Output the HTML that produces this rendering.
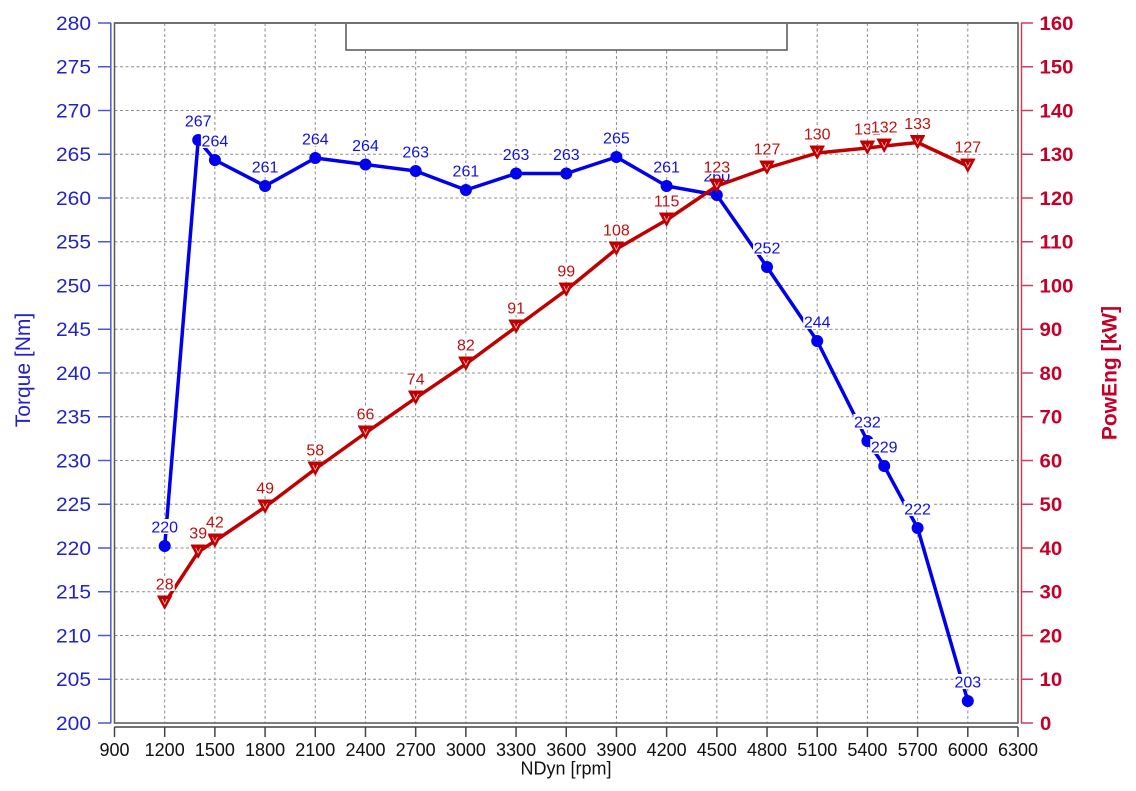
<!DOCTYPE html>
<html><head><meta charset="utf-8"><style>
html,body{margin:0;padding:0;background:#fff;}
svg{display:block;}
text{font-family:"Liberation Sans",Arial,sans-serif;}
</style></head><body>
<svg width="1136" height="791" viewBox="0 0 1136 791" xmlns="http://www.w3.org/2000/svg">
<rect x="0" y="0" width="1136" height="791" fill="#fff"/>
<!-- grid -->
<g stroke="#8c8c8c" stroke-width="1" stroke-dasharray="3,2.5" fill="none">
<line x1="114.5" y1="66.75" x2="1018" y2="66.75"/>
<line x1="114.5" y1="110.5" x2="1018" y2="110.5"/>
<line x1="114.5" y1="154.25" x2="1018" y2="154.25"/>
<line x1="114.5" y1="198" x2="1018" y2="198"/>
<line x1="114.5" y1="241.75" x2="1018" y2="241.75"/>
<line x1="114.5" y1="285.5" x2="1018" y2="285.5"/>
<line x1="114.5" y1="329.25" x2="1018" y2="329.25"/>
<line x1="114.5" y1="373" x2="1018" y2="373"/>
<line x1="114.5" y1="416.75" x2="1018" y2="416.75"/>
<line x1="114.5" y1="460.5" x2="1018" y2="460.5"/>
<line x1="114.5" y1="504.25" x2="1018" y2="504.25"/>
<line x1="114.5" y1="548" x2="1018" y2="548"/>
<line x1="114.5" y1="591.75" x2="1018" y2="591.75"/>
<line x1="114.5" y1="635.5" x2="1018" y2="635.5"/>
<line x1="114.5" y1="679.25" x2="1018" y2="679.25"/>
<line x1="164.69" y1="23" x2="164.69" y2="723"/>
<line x1="214.89" y1="23" x2="214.89" y2="723"/>
<line x1="265.08" y1="23" x2="265.08" y2="723"/>
<line x1="315.28" y1="23" x2="315.28" y2="723"/>
<line x1="365.47" y1="23" x2="365.47" y2="723"/>
<line x1="415.67" y1="23" x2="415.67" y2="723"/>
<line x1="465.86" y1="23" x2="465.86" y2="723"/>
<line x1="516.06" y1="23" x2="516.06" y2="723"/>
<line x1="566.25" y1="23" x2="566.25" y2="723"/>
<line x1="616.44" y1="23" x2="616.44" y2="723"/>
<line x1="666.64" y1="23" x2="666.64" y2="723"/>
<line x1="716.83" y1="23" x2="716.83" y2="723"/>
<line x1="767.03" y1="23" x2="767.03" y2="723"/>
<line x1="817.22" y1="23" x2="817.22" y2="723"/>
<line x1="867.42" y1="23" x2="867.42" y2="723"/>
<line x1="917.61" y1="23" x2="917.61" y2="723"/>
<line x1="967.81" y1="23" x2="967.81" y2="723"/>
</g>
<!-- top box -->
<rect x="346" y="23" width="441" height="27" fill="#fff" stroke="#555" stroke-width="1.5"/>
<!-- frame -->
<rect x="114.5" y="23" width="903.5" height="700" fill="none" stroke="#555" stroke-width="1.5"/>
<line x1="114.5" y1="23" x2="1018" y2="23" stroke="#707070" stroke-width="2"/>

<!-- left axis -->
<g stroke="#4a58d0" stroke-width="1.5">
<line x1="110.8" y1="23" x2="110.8" y2="723"/>
<line x1="98" y1="23" x2="111" y2="23"/>
<line x1="98" y1="66.75" x2="111" y2="66.75"/>
<line x1="98" y1="110.5" x2="111" y2="110.5"/>
<line x1="98" y1="154.25" x2="111" y2="154.25"/>
<line x1="98" y1="198" x2="111" y2="198"/>
<line x1="98" y1="241.75" x2="111" y2="241.75"/>
<line x1="98" y1="285.5" x2="111" y2="285.5"/>
<line x1="98" y1="329.25" x2="111" y2="329.25"/>
<line x1="98" y1="373" x2="111" y2="373"/>
<line x1="98" y1="416.75" x2="111" y2="416.75"/>
<line x1="98" y1="460.5" x2="111" y2="460.5"/>
<line x1="98" y1="504.25" x2="111" y2="504.25"/>
<line x1="98" y1="548" x2="111" y2="548"/>
<line x1="98" y1="591.75" x2="111" y2="591.75"/>
<line x1="98" y1="635.5" x2="111" y2="635.5"/>
<line x1="98" y1="679.25" x2="111" y2="679.25"/>
<line x1="98" y1="723" x2="111" y2="723"/>
</g>
<g fill="#2222c8" font-size="19" text-anchor="end">
<text x="91" y="29.8" textLength="35" lengthAdjust="spacingAndGlyphs">280</text>
<text x="91" y="73.55" textLength="35" lengthAdjust="spacingAndGlyphs">275</text>
<text x="91" y="117.3" textLength="35" lengthAdjust="spacingAndGlyphs">270</text>
<text x="91" y="161.05" textLength="35" lengthAdjust="spacingAndGlyphs">265</text>
<text x="91" y="204.8" textLength="35" lengthAdjust="spacingAndGlyphs">260</text>
<text x="91" y="248.55" textLength="35" lengthAdjust="spacingAndGlyphs">255</text>
<text x="91" y="292.3" textLength="35" lengthAdjust="spacingAndGlyphs">250</text>
<text x="91" y="336.05" textLength="35" lengthAdjust="spacingAndGlyphs">245</text>
<text x="91" y="379.8" textLength="35" lengthAdjust="spacingAndGlyphs">240</text>
<text x="91" y="423.55" textLength="35" lengthAdjust="spacingAndGlyphs">235</text>
<text x="91" y="467.3" textLength="35" lengthAdjust="spacingAndGlyphs">230</text>
<text x="91" y="511.05" textLength="35" lengthAdjust="spacingAndGlyphs">225</text>
<text x="91" y="554.8" textLength="35" lengthAdjust="spacingAndGlyphs">220</text>
<text x="91" y="598.55" textLength="35" lengthAdjust="spacingAndGlyphs">215</text>
<text x="91" y="642.3" textLength="35" lengthAdjust="spacingAndGlyphs">210</text>
<text x="91" y="686.05" textLength="35" lengthAdjust="spacingAndGlyphs">205</text>
<text x="91" y="729.8" textLength="35" lengthAdjust="spacingAndGlyphs">200</text>
</g>
<text transform="translate(30,370) rotate(-90)" text-anchor="middle" font-size="21" fill="#2222c8">Torque [Nm]</text>

<!-- right axis -->
<g stroke="#c8405e" stroke-width="1.5">
<line x1="1021.5" y1="23" x2="1021.5" y2="723"/>
<line x1="1021" y1="23" x2="1033" y2="23"/>
<line x1="1021" y1="66.75" x2="1033" y2="66.75"/>
<line x1="1021" y1="110.5" x2="1033" y2="110.5"/>
<line x1="1021" y1="154.25" x2="1033" y2="154.25"/>
<line x1="1021" y1="198" x2="1033" y2="198"/>
<line x1="1021" y1="241.75" x2="1033" y2="241.75"/>
<line x1="1021" y1="285.5" x2="1033" y2="285.5"/>
<line x1="1021" y1="329.25" x2="1033" y2="329.25"/>
<line x1="1021" y1="373" x2="1033" y2="373"/>
<line x1="1021" y1="416.75" x2="1033" y2="416.75"/>
<line x1="1021" y1="460.5" x2="1033" y2="460.5"/>
<line x1="1021" y1="504.25" x2="1033" y2="504.25"/>
<line x1="1021" y1="548" x2="1033" y2="548"/>
<line x1="1021" y1="591.75" x2="1033" y2="591.75"/>
<line x1="1021" y1="635.5" x2="1033" y2="635.5"/>
<line x1="1021" y1="679.25" x2="1033" y2="679.25"/>
<line x1="1021" y1="723" x2="1033" y2="723"/>
</g>
<g fill="#c40028" font-size="19" font-weight="bold" text-anchor="start">
<text x="1039.5" y="29.8" textLength="34" lengthAdjust="spacingAndGlyphs">160</text>
<text x="1039.5" y="73.55" textLength="34" lengthAdjust="spacingAndGlyphs">150</text>
<text x="1039.5" y="117.3" textLength="34" lengthAdjust="spacingAndGlyphs">140</text>
<text x="1039.5" y="161.05" textLength="34" lengthAdjust="spacingAndGlyphs">130</text>
<text x="1039.5" y="204.8" textLength="34" lengthAdjust="spacingAndGlyphs">120</text>
<text x="1039.5" y="248.55" textLength="34" lengthAdjust="spacingAndGlyphs">110</text>
<text x="1039.5" y="292.3" textLength="34" lengthAdjust="spacingAndGlyphs">100</text>
<text x="1039.5" y="336.05" textLength="22.7" lengthAdjust="spacingAndGlyphs">90</text>
<text x="1039.5" y="379.8" textLength="22.7" lengthAdjust="spacingAndGlyphs">80</text>
<text x="1039.5" y="423.55" textLength="22.7" lengthAdjust="spacingAndGlyphs">70</text>
<text x="1039.5" y="467.3" textLength="22.7" lengthAdjust="spacingAndGlyphs">60</text>
<text x="1039.5" y="511.05" textLength="22.7" lengthAdjust="spacingAndGlyphs">50</text>
<text x="1039.5" y="554.8" textLength="22.7" lengthAdjust="spacingAndGlyphs">40</text>
<text x="1039.5" y="598.55" textLength="22.7" lengthAdjust="spacingAndGlyphs">30</text>
<text x="1039.5" y="642.3" textLength="22.7" lengthAdjust="spacingAndGlyphs">20</text>
<text x="1039.5" y="686.05" textLength="22.7" lengthAdjust="spacingAndGlyphs">10</text>
<text x="1040" y="729.8" textLength="11.3" lengthAdjust="spacingAndGlyphs">0</text>
</g>
<text transform="translate(1116.5,373) rotate(-90)" text-anchor="middle" font-size="21" font-weight="bold" fill="#c40028">PowEng [kW]</text>

<!-- x axis -->
<g stroke="#444" stroke-width="1.5">
<line x1="114.5" y1="727" x2="1018" y2="727"/>
<line x1="114.5" y1="727" x2="114.5" y2="737"/>
<line x1="164.69" y1="727" x2="164.69" y2="737"/>
<line x1="214.89" y1="727" x2="214.89" y2="737"/>
<line x1="265.08" y1="727" x2="265.08" y2="737"/>
<line x1="315.28" y1="727" x2="315.28" y2="737"/>
<line x1="365.47" y1="727" x2="365.47" y2="737"/>
<line x1="415.67" y1="727" x2="415.67" y2="737"/>
<line x1="465.86" y1="727" x2="465.86" y2="737"/>
<line x1="516.06" y1="727" x2="516.06" y2="737"/>
<line x1="566.25" y1="727" x2="566.25" y2="737"/>
<line x1="616.44" y1="727" x2="616.44" y2="737"/>
<line x1="666.64" y1="727" x2="666.64" y2="737"/>
<line x1="716.83" y1="727" x2="716.83" y2="737"/>
<line x1="767.03" y1="727" x2="767.03" y2="737"/>
<line x1="817.22" y1="727" x2="817.22" y2="737"/>
<line x1="867.42" y1="727" x2="867.42" y2="737"/>
<line x1="917.61" y1="727" x2="917.61" y2="737"/>
<line x1="967.81" y1="727" x2="967.81" y2="737"/>
<line x1="1018" y1="727" x2="1018" y2="737"/>
</g>
<g fill="#111" font-size="18" text-anchor="middle">
<text x="114.5" y="756">900</text>
<text x="164.69" y="756">1200</text>
<text x="214.89" y="756">1500</text>
<text x="265.08" y="756">1800</text>
<text x="315.28" y="756">2100</text>
<text x="365.47" y="756">2400</text>
<text x="415.67" y="756">2700</text>
<text x="465.86" y="756">3000</text>
<text x="516.06" y="756">3300</text>
<text x="566.25" y="756">3600</text>
<text x="616.44" y="756">3900</text>
<text x="666.64" y="756">4200</text>
<text x="716.83" y="756">4500</text>
<text x="767.03" y="756">4800</text>
<text x="817.22" y="756">5100</text>
<text x="867.42" y="756">5400</text>
<text x="917.61" y="756">5700</text>
<text x="967.81" y="756">6000</text>
<text x="1018" y="756">6300</text>
<text x="566" y="774.5">NDyn [rpm]</text>
</g>

<!-- torque series -->
<polyline fill="none" stroke="#0000ee" stroke-width="3.5" stroke-linejoin="round" points="164.7,546 198.2,140 214.9,160 265.1,186 315.3,158 365.5,164.5 415.7,171 465.9,190 516.1,173.5 566.3,173.5 616.4,157 666.6,186 716.8,195 767.0,267 817.2,341 867.4,441 884.2,466 917.6,528 967.8,701"/>
<g fill="#0000ee">
<circle cx="164.7" cy="546" r="6"/>
<circle cx="198.2" cy="140" r="6"/>
<circle cx="214.9" cy="160" r="6"/>
<circle cx="265.1" cy="186" r="6"/>
<circle cx="315.3" cy="158" r="6"/>
<circle cx="365.5" cy="164.5" r="6"/>
<circle cx="415.7" cy="171" r="6"/>
<circle cx="465.9" cy="190" r="6"/>
<circle cx="516.1" cy="173.5" r="6"/>
<circle cx="566.3" cy="173.5" r="6"/>
<circle cx="616.4" cy="157" r="6"/>
<circle cx="666.6" cy="186" r="6"/>
<circle cx="716.8" cy="195" r="6"/>
<circle cx="767.0" cy="267" r="6"/>
<circle cx="817.2" cy="341" r="6"/>
<circle cx="867.4" cy="441" r="6"/>
<circle cx="884.2" cy="466" r="6"/>
<circle cx="917.6" cy="528" r="6"/>
<circle cx="967.8" cy="701" r="6"/>
</g>
<g font-size="16" text-anchor="middle">
<rect x="150.7" y="519" width="28" height="15" fill="#fff"/><text x="164.7" y="532.3" fill="#1010e6">220</text>
<rect x="184.2" y="113" width="28" height="15" fill="#fff"/><text x="198.2" y="126.3" fill="#1010e6">267</text>
<rect x="200.9" y="133" width="28" height="15" fill="#fff"/><text x="214.9" y="146.3" fill="#1010e6">264</text>
<rect x="251.1" y="159" width="28" height="15" fill="#fff"/><text x="265.1" y="172.3" fill="#1010e6">261</text>
<rect x="301.3" y="131" width="28" height="15" fill="#fff"/><text x="315.3" y="144.3" fill="#1010e6">264</text>
<rect x="351.5" y="137.5" width="28" height="15" fill="#fff"/><text x="365.5" y="150.8" fill="#1010e6">264</text>
<rect x="401.7" y="144" width="28" height="15" fill="#fff"/><text x="415.7" y="157.3" fill="#1010e6">263</text>
<rect x="451.9" y="163" width="28" height="15" fill="#fff"/><text x="465.9" y="176.3" fill="#1010e6">261</text>
<rect x="502.1" y="146.5" width="28" height="15" fill="#fff"/><text x="516.1" y="159.8" fill="#1010e6">263</text>
<rect x="552.3" y="146.5" width="28" height="15" fill="#fff"/><text x="566.3" y="159.8" fill="#1010e6">263</text>
<rect x="602.4" y="130" width="28" height="15" fill="#fff"/><text x="616.4" y="143.3" fill="#1010e6">265</text>
<rect x="652.6" y="159" width="28" height="15" fill="#fff"/><text x="666.6" y="172.3" fill="#1010e6">261</text>
<rect x="702.8" y="168" width="28" height="15" fill="#fff"/><text x="716.8" y="181.3" fill="#1010e6">260</text>
<rect x="753.0" y="240" width="28" height="15" fill="#fff"/><text x="767.0" y="253.3" fill="#1010e6">252</text>
<rect x="803.2" y="314" width="28" height="15" fill="#fff"/><text x="817.2" y="327.3" fill="#1010e6">244</text>
<rect x="853.4" y="414" width="28" height="15" fill="#fff"/><text x="867.4" y="427.3" fill="#1010e6">232</text>
<rect x="870.2" y="439" width="28" height="15" fill="#fff"/><text x="884.2" y="452.3" fill="#1010e6">229</text>
<rect x="903.6" y="501" width="28" height="15" fill="#fff"/><text x="917.6" y="514.3" fill="#1010e6">222</text>
<rect x="953.8" y="674" width="28" height="15" fill="#fff"/><text x="967.8" y="687.3" fill="#1010e6">203</text>
</g>

<!-- power series -->
<polyline fill="none" stroke="#c00000" stroke-width="3.5" stroke-linejoin="round" points="164.7,603 198.2,552 214.9,541 265.1,507 315.3,469 365.5,433 415.7,398 465.9,364 516.1,327 566.3,290 616.4,249 666.6,220 716.8,186 767.0,168 817.2,153 867.4,148 884.2,146 917.6,142.5 967.8,166"/>
<g fill="#c00000" stroke="#c00000" stroke-width="1" stroke-linejoin="round">
<polygon points="157.7,596 171.7,596 164.7,609"/>
<polygon points="191.2,545 205.2,545 198.2,558"/>
<polygon points="207.9,534 221.9,534 214.9,547"/>
<polygon points="258.1,500 272.1,500 265.1,513"/>
<polygon points="308.3,462 322.3,462 315.3,475"/>
<polygon points="358.5,426 372.5,426 365.5,439"/>
<polygon points="408.7,391 422.7,391 415.7,404"/>
<polygon points="458.9,357 472.9,357 465.9,370"/>
<polygon points="509.1,320 523.1,320 516.1,333"/>
<polygon points="559.3,283 573.3,283 566.3,296"/>
<polygon points="609.4,242 623.4,242 616.4,255"/>
<polygon points="659.6,213 673.6,213 666.6,226"/>
<polygon points="709.8,179 723.8,179 716.8,192"/>
<polygon points="760.0,161 774.0,161 767.0,174"/>
<polygon points="810.2,146 824.2,146 817.2,159"/>
<polygon points="860.4,141 874.4,141 867.4,154"/>
<polygon points="877.2,139 891.2,139 884.2,152"/>
<polygon points="910.6,135.5 924.6,135.5 917.6,148.5"/>
<polygon points="960.8,159 974.8,159 967.8,172"/>
</g>
<g fill="none" stroke="#fff" stroke-width="0.8" opacity="0.8">
<polyline points="162.2,599 164.7,604 167.2,599"/>
<polyline points="195.7,548 198.2,553 200.7,548"/>
<polyline points="212.4,537 214.9,542 217.4,537"/>
<polyline points="262.6,503 265.1,508 267.6,503"/>
<polyline points="312.8,465 315.3,470 317.8,465"/>
<polyline points="363,429 365.5,434 368,429"/>
<polyline points="413.2,394 415.7,399 418.2,394"/>
<polyline points="463.4,360 465.9,365 468.4,360"/>
<polyline points="513.6,323 516.1,328 518.6,323"/>
<polyline points="563.8,286 566.3,291 568.8,286"/>
<polyline points="613.9,245 616.4,250 618.9,245"/>
<polyline points="664.1,216 666.6,221 669.1,216"/>
<polyline points="714.3,182 716.8,187 719.3,182"/>
<polyline points="764.5,164 767,169 769.5,164"/>
<polyline points="814.7,149 817.2,154 819.7,149"/>
<polyline points="864.9,144 867.4,149 869.9,144"/>
<polyline points="881.7,142 884.2,147 886.7,142"/>
<polyline points="915.1,138.5 917.6,143.5 920.1,138.5"/>
<polyline points="965.3,162 967.8,167 970.3,162"/>
</g>
<g font-size="16" text-anchor="middle">
<rect x="154.7" y="576" width="20" height="15" fill="#fff"/><text x="164.7" y="589.3" fill="#c01010">28</text>
<rect x="188.2" y="525" width="20" height="15" fill="#fff"/><text x="198.2" y="538.3" fill="#c01010">39</text>
<rect x="204.9" y="514" width="20" height="15" fill="#fff"/><text x="214.9" y="527.3" fill="#c01010">42</text>
<rect x="255.1" y="480" width="20" height="15" fill="#fff"/><text x="265.1" y="493.3" fill="#c01010">49</text>
<rect x="305.3" y="442" width="20" height="15" fill="#fff"/><text x="315.3" y="455.3" fill="#c01010">58</text>
<rect x="355.5" y="406" width="20" height="15" fill="#fff"/><text x="365.5" y="419.3" fill="#c01010">66</text>
<rect x="405.7" y="371" width="20" height="15" fill="#fff"/><text x="415.7" y="384.3" fill="#c01010">74</text>
<rect x="455.9" y="337" width="20" height="15" fill="#fff"/><text x="465.9" y="350.3" fill="#c01010">82</text>
<rect x="506.1" y="300" width="20" height="15" fill="#fff"/><text x="516.1" y="313.3" fill="#c01010">91</text>
<rect x="556.3" y="263" width="20" height="15" fill="#fff"/><text x="566.3" y="276.3" fill="#c01010">99</text>
<rect x="602.4" y="222" width="28" height="15" fill="#fff"/><text x="616.4" y="235.3" fill="#c01010">108</text>
<rect x="652.6" y="193" width="28" height="15" fill="#fff"/><text x="666.6" y="206.3" fill="#c01010">115</text>
<rect x="702.8" y="159" width="28" height="15" fill="#fff"/><text x="716.8" y="172.3" fill="#c01010">123</text>
<rect x="753.0" y="141" width="28" height="15" fill="#fff"/><text x="767.0" y="154.3" fill="#c01010">127</text>
<rect x="803.2" y="126" width="28" height="15" fill="#fff"/><text x="817.2" y="139.3" fill="#c01010">130</text>
<rect x="853.4" y="121" width="28" height="15" fill="#fff"/><text x="867.4" y="134.3" fill="#c01010">131</text>
<rect x="870.2" y="119" width="28" height="15" fill="#fff"/><text x="884.2" y="132.3" fill="#c01010">132</text>
<rect x="903.6" y="115.5" width="28" height="15" fill="#fff"/><text x="917.6" y="128.8" fill="#c01010">133</text>
<rect x="953.8" y="139" width="28" height="15" fill="#fff"/><text x="967.8" y="152.3" fill="#c01010">127</text>
</g>
</svg>
</body></html>
